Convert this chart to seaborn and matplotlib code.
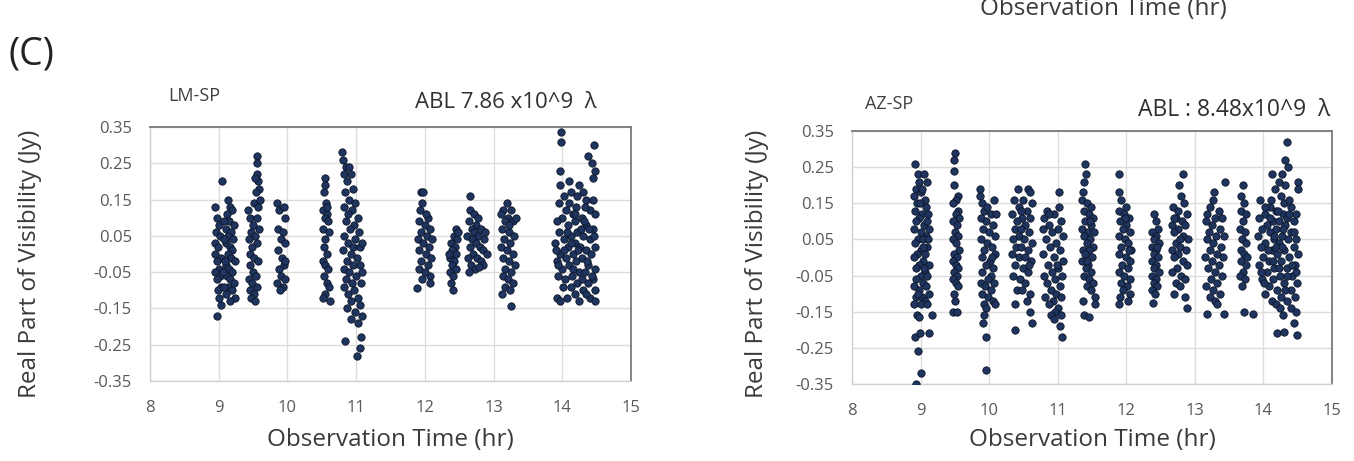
import matplotlib
matplotlib.use("Agg")
import matplotlib.pyplot as plt
import seaborn as sns
import pandas as pd

# ---------------- data: LM-SP (left panel), (time hr, real visibility Jy) ----------------
lm_a = [(9.05,0.20),(8.95,0.13),(8.97,0.10),(9.00,0.08),(8.96,0.06),(9.02,0.05),(8.94,0.03),(8.99,0.02),
        (8.95,0.00),(9.03,-0.01),(8.97,-0.02),(9.00,-0.04),(8.94,-0.05),(9.02,-0.06),(8.98,-0.07),(9.04,-0.09),
        (8.99,-0.10),(9.01,-0.12),(9.03,-0.14),(8.97,-0.17),(9.13,0.15),(9.17,0.13),(9.19,0.12),(9.12,0.11),
        (9.15,0.09),(9.22,0.08),(9.10,0.07),(9.18,0.06),(9.14,0.05),(9.21,0.04),(9.11,0.03),(9.16,0.02),
        (9.20,0.01),(9.13,0.00),(9.18,-0.01),(9.23,-0.02),(9.10,-0.03),(9.15,-0.04),(9.20,-0.05),(9.12,-0.06),
        (9.17,-0.07),(9.22,-0.08),(9.14,-0.09),(9.19,-0.10),(9.11,-0.11),(9.24,-0.12),(9.16,-0.13),(9.08,-0.09),
        (9.07,0.04),(9.06,-0.05),(9.09,-0.02),(9.08,0.09)]
lm_b = [(9.56,0.27),(9.56,0.25),(9.55,0.22),(9.57,0.20),(9.53,0.21),(9.58,0.18),(9.54,0.17),(9.52,0.14),
        (9.57,0.13),(9.45,0.10),(9.55,0.10),(9.50,0.08),(9.58,0.07),(9.47,0.06),(9.53,0.05),(9.44,0.04),
        (9.56,0.03),(9.49,0.02),(9.45,0.00),(9.52,-0.01),(9.57,-0.02),(9.46,-0.03),(9.50,-0.05),(9.54,-0.06),
        (9.44,-0.07),(9.48,-0.08),(9.56,-0.09),(9.45,-0.10),(9.52,-0.11),(9.47,-0.12),(9.53,-0.13),(9.60,0.15),
        (9.42,0.12)]
lm_c = [(9.85,0.14),(9.88,0.12),(9.95,0.13),(9.97,0.10),(9.86,0.07),(9.93,0.06),(9.90,0.04),(9.96,0.03),
        (9.87,0.01),(9.92,-0.01),(9.95,-0.03),(9.88,-0.04),(9.91,-0.06),(9.97,-0.07),(9.85,-0.08),(9.93,-0.09),
        (9.89,-0.10),(9.96,-0.02)]
lm_d = [(10.55,0.21),(10.55,0.19),(10.53,0.17),(10.56,0.14),(10.52,0.12),(10.57,0.11),(10.54,0.10),(10.59,0.09),
        (10.52,0.07),(10.60,0.06),(10.55,0.04),(10.53,0.02),(10.58,0.00),(10.52,-0.02),(10.55,-0.03),(10.59,-0.04),
        (10.53,-0.06),(10.57,-0.08),(10.60,-0.09),(10.54,-0.11),(10.52,-0.12),(10.62,-0.13),(10.57,0.13)]
lm_e = [(10.80,0.28),(10.81,0.26),(10.85,0.24),(10.89,0.24),(10.83,0.22),(10.92,0.22),(10.87,0.20),(10.95,0.18),
        (10.84,0.17),(10.90,0.15),(10.98,0.14),(10.82,0.13),(10.94,0.12),(10.88,0.11),(11.03,0.10),(10.85,0.09),
        (10.97,0.08),(10.91,0.07),(11.04,0.06),(10.83,0.05),(10.99,0.04),(10.88,0.03),(10.95,0.02),(11.06,0.02),
        (10.81,0.01),(10.92,0.00),(11.01,-0.01),(10.86,-0.02),(10.96,-0.03),(11.05,-0.03),(10.82,-0.04),(10.90,-0.05),
        (11.00,-0.06),(10.85,-0.07),(10.94,-0.08),(11.07,-0.08),(10.82,-0.09),(10.97,-0.10),(10.88,-0.11),(11.03,-0.12),
        (10.92,-0.13),(11.06,-0.14),(10.86,-0.15),(10.99,-0.16),(11.08,-0.17),(10.93,-0.18),(11.02,-0.19),(10.84,-0.24),
        (11.07,-0.23),(11.06,-0.26),(11.01,-0.28),(11.08,0.03),(11.09,-0.05)]
lm_f = [(11.95,0.17),(11.98,0.17),(11.96,0.14),(11.93,0.12),(12.05,0.10),(11.91,0.09),(12.00,0.08),(12.08,0.07),
        (11.94,0.06),(12.03,0.05),(11.90,0.04),(12.10,0.04),(11.97,0.03),(12.06,0.02),(11.92,0.01),(12.01,0.00),
        (12.09,-0.01),(11.95,-0.02),(12.04,-0.03),(11.91,-0.04),(12.00,-0.05),(12.07,-0.06),(11.96,-0.07),(12.08,-0.08),
        (11.89,-0.095),(12.02,0.11)]
lm_g = [(12.45,0.07),(12.42,0.05),(12.47,0.04),(12.38,0.03),(12.44,0.02),(12.40,0.01),(12.46,0.00),(12.37,-0.01),
        (12.43,-0.02),(12.39,-0.03),(12.45,-0.04),(12.36,-0.05),(12.41,-0.06),(12.38,-0.08),(12.41,-0.10),(12.48,0.06),
        (12.35,0.00)]
lm_h = [(12.66,0.16),(12.66,0.12),(12.71,0.11),(12.64,0.09),(12.75,0.08),(12.68,0.07),(12.82,0.07),(12.72,0.06),
        (12.62,0.05),(12.78,0.05),(12.86,0.04),(12.69,0.04),(12.74,0.03),(12.65,0.02),(12.80,0.02),(12.84,0.01),
        (12.70,0.00),(12.76,-0.01),(12.63,-0.01),(12.81,-0.02),(12.67,-0.03),(12.85,-0.03),(12.73,-0.04),(12.78,0.10),
        (12.88,0.06),(12.64,-0.05),(12.79,-0.035),(12.90,0.00)]
lm_i = [(13.19,0.14),(13.14,0.12),(13.11,0.11),(13.21,0.10),(13.16,0.09),(13.26,0.12),(13.28,0.09),(13.12,0.07),
        (13.22,0.06),(13.30,0.05),(13.15,0.04),(13.24,0.03),(13.11,0.02),(13.19,0.01),(13.28,0.00),(13.14,-0.01),
        (13.23,-0.02),(13.31,-0.03),(13.17,-0.04),(13.26,-0.05),(13.13,-0.06),(13.21,-0.07),(13.29,-0.08),(13.16,-0.09),
        (13.24,-0.10),(13.12,-0.11),(13.22,0.08),(13.25,-0.143),(13.33,0.10)]
lm_j = [(13.98,0.335),(13.98,0.31),(14.46,0.30),(14.37,0.27),(14.43,0.25),(14.47,0.23),(13.96,0.23),(14.45,0.21),
        (14.10,0.20),(14.24,0.19),(14.12,0.17),(14.30,0.17),(14.22,0.16),(14.34,0.15),(13.95,0.14),(14.05,0.12),
        (14.15,0.11),(14.40,0.12),(14.48,0.11),(14.00,0.10),(14.28,0.10),(14.18,0.09),(13.92,0.09),(14.35,0.08),
        (14.08,0.08),(14.45,0.07),(14.22,0.06),(13.95,0.06),(14.12,0.05),(14.30,0.05),(14.02,0.04),(14.40,0.04),
        (14.18,0.03),(13.90,0.03),(14.26,0.02),(14.08,0.02),(14.48,0.02),(14.35,0.01),(13.97,0.00),(14.15,0.00),
        (14.42,0.00),(14.05,-0.01),(14.28,-0.01),(13.92,-0.02),(14.20,-0.02),(14.38,-0.03),(14.10,-0.03),(14.48,-0.04),
        (13.99,-0.04),(14.25,-0.05),(14.33,-0.05),(14.14,-0.06),(13.94,-0.06),(14.45,-0.07),(14.04,-0.07),(14.22,-0.08),
        (14.38,-0.08),(14.12,-0.09),(14.30,-0.10),(14.47,-0.10),(14.18,-0.11),(14.07,-0.12),(14.40,-0.12),(14.25,-0.13),
        (13.93,-0.12),(13.96,-0.13),(14.47,-0.13),(14.33,0.13),(14.20,0.13),(13.97,0.19),(14.02,0.16),(14.44,0.15),
        (14.10,0.14),(14.27,0.07),(14.36,-0.02),(13.91,0.01),(14.16,-0.04),(14.43,-0.06),(14.01,-0.09),(14.32,0.09),
        (14.07,0.06),(14.23,0.01),(14.46,0.05),(14.13,0.03),(13.94,-0.03),(14.39,0.07),(14.19,0.11),(14.29,-0.07),
        (14.03,0.01),(14.35,-0.11)]

# ---------------- data: AZ-SP (right panel) ----------------
az_1 = [(8.92,0.26),(8.96,0.23),(9.05,0.23),(8.97,0.21),(9.10,0.21),(8.93,0.19),(9.00,0.18),(8.91,0.17),
        (9.06,0.16),(8.95,0.15),(9.08,0.14),(8.92,0.13),(9.02,0.12),(9.11,0.12),(8.98,0.11),(8.94,0.10),
        (9.05,0.09),(9.12,0.08),(8.91,0.08),(9.00,0.07),(9.08,0.06),(8.96,0.05),(9.04,0.05),(8.92,0.04),
        (9.10,0.03),(9.01,0.02),(8.95,0.01),(9.07,0.01),(8.91,0.00),(9.03,-0.01),(9.12,-0.02),(8.97,-0.02),
        (8.93,-0.03),(9.06,-0.04),(9.00,-0.05),(9.10,-0.05),(8.94,-0.06),(9.04,-0.07),(8.91,-0.08),(9.08,-0.08),
        (8.98,-0.09),(9.13,-0.10),(8.93,-0.11),(9.02,-0.11),(9.07,-0.12),(8.91,-0.13),(9.00,-0.13),(9.10,-0.13),
        (8.95,-0.16),(8.97,-0.165),(9.16,-0.16),(8.92,-0.22),(8.99,-0.21),(9.12,-0.21),(8.96,-0.26),(9.00,-0.32),
        (8.94,-0.35),(9.03,0.03),(9.09,0.10),(8.99,0.15),(9.05,-0.03),(9.11,0.05),(8.96,-0.10),(9.02,0.19)]
az_2 = [(9.50,0.29),(9.49,0.27),(9.49,0.24),(9.49,0.20),(9.55,0.17),(9.52,0.16),(9.47,0.15),(9.54,0.13),
        (9.51,0.12),(9.56,0.11),(9.48,0.10),(9.53,0.09),(9.50,0.07),(9.55,0.06),(9.47,0.05),(9.52,0.04),
        (9.56,0.02),(9.49,0.01),(9.53,0.00),(9.47,-0.01),(9.51,-0.02),(9.55,-0.03),(9.49,-0.04),(9.53,-0.05),
        (9.47,-0.06),(9.51,-0.07),(9.55,-0.08),(9.49,-0.10),(9.50,-0.12),(9.47,-0.15),(9.53,-0.15)]
az_3 = [(9.87,0.19),(9.87,0.17),(9.89,0.15),(10.07,0.16),(9.92,0.13),(10.02,0.12),(10.10,0.12),(9.88,0.11),
        (9.96,0.10),(10.05,0.09),(9.91,0.08),(10.00,0.07),(10.09,0.06),(9.88,0.05),(9.97,0.04),(10.04,0.03),
        (9.93,0.02),(10.08,0.01),(9.89,0.00),(10.01,-0.01),(9.95,-0.02),(10.06,-0.03),(9.90,-0.04),(10.03,-0.05),
        (9.98,-0.06),(9.88,-0.07),(10.07,-0.07),(9.94,-0.08),(10.02,-0.09),(9.90,-0.10),(9.99,-0.11),(10.05,-0.12),
        (9.92,-0.13),(10.08,-0.13),(9.95,-0.14),(9.93,-0.16),(9.91,-0.18),(9.95,-0.22),(9.96,-0.31),(10.04,0.00),
        (9.97,0.14)]
az_4 = [(10.42,0.19),(10.57,0.19),(10.60,0.18),(10.36,0.16),(10.50,0.16),(10.62,0.15),(10.44,0.14),(10.55,0.13),
        (10.34,0.12),(10.48,0.11),(10.60,0.11),(10.40,0.10),(10.53,0.09),(10.37,0.08),(10.46,0.08),(10.58,0.07),
        (10.43,0.06),(10.35,0.05),(10.51,0.05),(10.62,0.04),(10.39,0.03),(10.47,0.03),(10.56,0.02),(10.34,0.01),
        (10.44,0.00),(10.53,0.00),(10.61,-0.01),(10.38,-0.02),(10.49,-0.03),(10.57,-0.04),(10.35,-0.05),(10.45,-0.06),
        (10.52,-0.07),(10.40,-0.09),(10.48,-0.09),(10.60,-0.10),(10.55,-0.12),(10.37,-0.13),(10.60,-0.15),(10.62,-0.18),
        (10.38,-0.20),(10.46,0.13),(10.58,-0.02)]
az_5 = [(11.02,0.18),(11.02,0.14),(10.85,0.13),(10.80,0.11),(10.95,0.12),(11.05,0.10),(10.88,0.09),(10.78,0.08),
        (11.00,0.08),(10.92,0.07),(11.08,0.06),(10.83,0.05),(10.97,0.04),(10.89,0.03),(11.04,0.02),(10.79,0.01),
        (10.94,0.00),(11.07,-0.01),(10.86,-0.02),(11.01,-0.03),(10.91,-0.04),(10.80,-0.05),(11.06,-0.05),(10.96,-0.06),
        (10.84,-0.07),(11.03,-0.08),(10.90,-0.09),(10.98,-0.10),(10.82,-0.11),(11.05,-0.11),(10.93,-0.12),(10.87,-0.13),
        (11.01,-0.14),(10.96,-0.15),(10.90,-0.16),(11.05,-0.16),(10.94,-0.17),(11.03,-0.19),(11.06,-0.22),(10.88,0.12),
        (10.99,-0.02)]
az_6 = [(11.40,0.26),(11.41,0.23),(11.38,0.21),(11.37,0.18),(11.36,0.16),(11.43,0.15),(11.49,0.14),(11.38,0.13),
        (11.46,0.12),(11.52,0.11),(11.40,0.10),(11.48,0.09),(11.36,0.08),(11.44,0.07),(11.53,0.07),(11.39,0.06),
        (11.47,0.05),(11.42,0.04),(11.51,0.03),(11.37,0.02),(11.45,0.02),(11.40,0.01),(11.50,0.00),(11.36,-0.01),
        (11.44,-0.02),(11.41,-0.03),(11.48,-0.04),(11.38,-0.05),(11.46,-0.06),(11.52,-0.07),(11.43,-0.08),(11.49,-0.09),
        (11.37,-0.12),(11.54,-0.11),(11.55,-0.13),(11.39,-0.16),(11.45,-0.165),(11.47,0.10),(11.42,-0.01)]
az_7 = [(11.90,0.23),(11.90,0.18),(11.92,0.16),(12.00,0.14),(11.89,0.13),(11.96,0.12),(12.04,0.11),(11.91,0.10),
        (12.00,0.09),(11.95,0.08),(12.06,0.07),(11.89,0.06),(11.98,0.05),(12.03,0.04),(11.93,0.03),(12.07,0.02),
        (11.90,0.01),(11.99,0.00),(12.05,-0.01),(11.94,-0.02),(12.02,-0.03),(11.89,-0.04),(11.97,-0.05),(12.06,-0.06),
        (11.92,-0.07),(12.01,-0.08),(11.95,-0.09),(12.05,-0.10),(11.91,-0.11),(12.02,-0.12),(11.90,-0.13),(11.98,0.11),
        (12.04,0.02)]
az_8 = [(12.40,0.12),(12.43,0.10),(12.46,0.08),(12.38,0.07),(12.44,0.06),(12.41,0.05),(12.47,0.04),(12.37,0.03),
        (12.43,0.02),(12.40,0.01),(12.46,0.00),(12.38,-0.01),(12.44,-0.02),(12.41,-0.03),(12.47,-0.04),(12.37,-0.05),
        (12.43,-0.06),(12.40,-0.07),(12.45,-0.08),(12.38,-0.09),(12.42,-0.10),(12.39,-0.125),(12.45,0.03)]
az_9 = [(12.83,0.23),(12.77,0.20),(12.80,0.17),(12.84,0.15),(12.68,0.14),(12.76,0.13),(12.88,0.12),(12.72,0.11),
        (12.81,0.10),(12.67,0.09),(12.86,0.09),(12.75,0.08),(12.70,0.07),(12.83,0.06),(12.90,0.05),(12.73,0.04),
        (12.79,0.03),(12.66,0.02),(12.87,0.02),(12.76,0.01),(12.70,0.00),(12.82,-0.01),(12.89,-0.02),(12.74,-0.03),
        (12.67,-0.04),(12.80,-0.05),(12.86,-0.06),(12.72,-0.07),(12.78,-0.08),(12.70,-0.10),(12.85,-0.11),(12.88,-0.14),
        (12.78,0.05),(12.69,0.11)]
az_10 = [(13.44,0.21),(13.28,0.18),(13.26,0.16),(13.22,0.14),(13.35,0.13),(13.18,0.12),(13.30,0.11),(13.40,0.11),
         (13.16,0.10),(13.25,0.09),(13.36,0.08),(13.20,0.07),(13.31,0.06),(13.42,0.06),(13.17,0.05),(13.27,0.04),
         (13.38,0.03),(13.22,0.02),(13.33,0.01),(13.15,0.00),(13.41,0.00),(13.25,-0.01),(13.35,-0.02),(13.19,-0.03),
         (13.29,-0.04),(13.39,-0.05),(13.23,-0.06),(13.33,-0.07),(13.16,-0.08),(13.27,-0.09),(13.37,-0.10),(13.22,-0.11),
         (13.30,-0.12),(13.18,-0.155),(13.42,-0.155),(13.32,-0.13)]
az_11 = [(13.70,0.20),(13.68,0.17),(13.72,0.15),(13.67,0.13),(13.74,0.12),(13.70,0.10),(13.66,0.08),(13.73,0.07),
         (13.69,0.05),(13.75,0.04),(13.67,0.02),(13.72,0.01),(13.68,-0.01),(13.74,-0.02),(13.70,-0.04),(13.66,-0.05),
         (13.73,-0.06),(13.69,-0.08),(13.71,-0.15),(13.85,-0.155),(13.76,0.00)]
az_12 = [(14.34,0.32),(14.31,0.27),(14.36,0.25),(14.12,0.23),(14.27,0.23),(14.50,0.21),(14.50,0.19),(14.22,0.21),
         (14.32,0.20),(14.17,0.19),(14.25,0.17),(13.95,0.16),(14.30,0.15),(14.10,0.14),(14.40,0.14),(14.18,0.13),
         (14.02,0.12),(14.47,0.12),(14.28,0.12),(13.93,0.11),(14.35,0.11),(14.14,0.10),(14.22,0.10),(14.45,0.10),
         (14.05,0.09),(14.32,0.09),(13.98,0.08),(14.18,0.08),(14.40,0.07),(14.10,0.07),(14.27,0.06),(13.92,0.06),
         (14.48,0.05),(14.15,0.05),(14.36,0.05),(14.03,0.04),(14.22,0.04),(14.44,0.03),(13.96,0.03),(14.30,0.02),
         (14.12,0.02),(14.50,0.01),(14.20,0.01),(14.00,0.00),(14.38,0.00),(14.08,-0.01),(14.26,-0.01),(14.46,-0.02),
         (13.94,-0.02),(14.16,-0.03),(14.34,-0.03),(14.05,-0.04),(14.42,-0.05),(14.24,-0.05),(13.98,-0.06),(14.14,-0.06),
         (14.49,-0.07),(14.30,-0.07),(14.08,-0.08),(14.20,-0.09),(14.40,-0.09),(14.02,-0.10),(14.26,-0.11),(14.46,-0.11),
         (14.12,-0.12),(14.34,-0.12),(14.18,-0.13),(14.40,-0.14),(14.24,-0.14),(14.48,-0.15),(14.29,-0.16),(14.45,-0.18),
         (14.20,-0.21),(14.30,-0.205),(14.49,-0.215),(14.03,0.14),(14.28,0.08),(14.09,0.11),(14.37,0.16),(14.14,-0.01),
         (14.32,-0.09),(14.44,0.07),(14.06,0.02),(14.23,-0.03),(14.01,-0.07),(14.38,0.12),(14.19,0.03),(14.11,0.16),
         (14.42,-0.02),(14.27,0.03),(13.97,-0.04),(14.16,0.06),(14.35,-0.05),(14.47,-0.04),(14.21,0.13)]

y_ticks = [0.35, 0.25, 0.15, 0.05, -0.05, -0.15, -0.25, -0.35]
y_ticklabels = ["0.35", "0.25", "0.15", "0.05", "-0.05", "-0.15", "-0.25", "-0.35"]
x_ticks = [8, 9, 10, 11, 12, 13, 14, 15]

lm_points = lm_a + lm_b + lm_c + lm_d + lm_e + lm_f + lm_g + lm_h + lm_i + lm_j
az_points = az_1 + az_2 + az_3 + az_4 + az_5 + az_6 + az_7 + az_8 + az_9 + az_10 + az_11 + az_12
df_lm = pd.DataFrame(lm_points, columns=["time", "vis"])
df_az = pd.DataFrame(az_points, columns=["time", "vis"])

# ---------------- style ----------------
sns.set_theme(style="white")
plt.rcParams["font.family"] = ["Open Sans", "DejaVu Sans"]

W, H = 1354, 461
fig = plt.figure(figsize=(W / 100, H / 100), dpi=100)
fig.patch.set_facecolor("white")

def px_rect(l, t, r, b):
    return [l / W, 1 - b / H, (r - l) / W, (b - t) / H]

ax1 = fig.add_axes(px_rect(150, 127, 631, 381))
ax2 = fig.add_axes(px_rect(852, 131, 1332, 384))

for ax, df in ((ax1, df_lm), (ax2, df_az)):
    sns.scatterplot(data=df, x="time", y="vis", ax=ax, s=28, color="#1f3560",
                    edgecolor="#0b1426", linewidth=0.6, legend=False, zorder=3)
    ax.set_xlim(8, 15)
    ax.set_ylim(-0.35, 0.35)
    ax.set_xticks(x_ticks)
    ax.set_xticklabels([str(t) for t in x_ticks])
    ax.set_yticks(y_ticks)
    ax.set_yticklabels(y_ticklabels)
    ax.grid(True, color="#dcdcdc", linewidth=1.0, zorder=0)
    ax.set_axisbelow(True)
    ax.set_xlabel("")
    ax.set_ylabel("")
    for side in ("top", "right"):
        ax.spines[side].set_color("#7a7a7a")
        ax.spines[side].set_linewidth(1.3)
    for side in ("left", "bottom"):
        ax.spines[side].set_color("#d0d0d0")
        ax.spines[side].set_linewidth(1.0)
    ax.tick_params(axis="both", which="both", length=0, labelsize=12, labelcolor="#595959")
    ax.tick_params(axis="y", pad=13)
    ax.tick_params(axis="x", pad=14)

LABEL_FS = 17.5
# axis titles
fig.text(30 / W, 1 - 264 / H, "Real Part of Visibility (Jy)", rotation=90, ha="center", va="center",
         fontsize=LABEL_FS, color="#3a3a3a")
fig.text(757 / W, 1 - 264 / H, "Real Part of Visibility (Jy)", rotation=90, ha="center", va="center",
         fontsize=LABEL_FS, color="#3a3a3a")
fig.text(390 / W, 1 - 440 / H, "Observation Time (hr)", ha="center", va="center", fontsize=LABEL_FS, color="#3a3a3a")
fig.text(1092 / W, 1 - 440 / H, "Observation Time (hr)", ha="center", va="center", fontsize=LABEL_FS, color="#3a3a3a")

# remnant of the panel above, clipped at the top edge as in the source figure
fig.text(1103 / W, 1 - 15 / H, "Observation Time (hr)", ha="center", va="baseline", fontsize=LABEL_FS,
         color="#3a3a3a")

# panel labels
fig.text(8 / W, 1 - 55 / H, "(C)", ha="left", va="center", fontsize=27, color="#222222")
fig.text(168 / W, 1 - 96 / H, "LM-SP", ha="left", va="center", fontsize=13, color="#404040")
fig.text(415 / W, 1 - 102 / H, "ABL 7.86 x10^9  λ", ha="left", va="center", fontsize=16, color="#303030")
fig.text(865 / W, 1 - 104 / H, "AZ-SP", ha="left", va="center", fontsize=13, color="#404040")
fig.text(1138 / W, 1 - 110 / H, "ABL : 8.48x10^9  λ", ha="left", va="center", fontsize=16.5, color="#303030")

fig.savefig("out.png", dpi=100, facecolor="white")
